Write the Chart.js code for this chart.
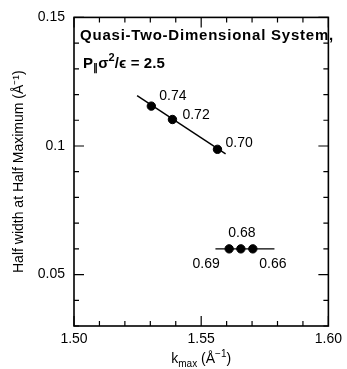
<!DOCTYPE html>
<html>
<head>
<meta charset="utf-8">
<script src="https://cdn.jsdelivr.net/npm/chart.js@4"></script>
<style>
  html, body { margin: 0; padding: 0; background: #fff; }
  #wrap { width: 347px; height: 369px; }
</style>
</head>
<body>
<div id="wrap"><canvas id="hwhm"></canvas></div>
<script>
// values
const upperK = [1.5304, 1.5387, 1.5564];
const upperHW = [0.1155, 0.1103, 0.0987];
const upperDensity = ['0.74', '0.72', '0.70'];
const upperFitK = [1.5248, 1.5596];
const upperFitHW = [0.1196, 0.0969];

const lowerK = [1.5610, 1.5656, 1.5703];
const lowerHW = [0.0600, 0.0600, 0.0600];
const lowerDensity = ['0.69', '0.68', '0.66'];
const lowerFitK = [1.5556, 1.5788];
const lowerFitHW = [0.0600, 0.0600];

const xMajor = [1.50, 1.55, 1.60];
const yMajor = [0.05, 0.10, 0.15];

const pts = (xs, ys) => xs.map((x, i) => ({ x: x, y: ys[i] }));
const FONT = '"Liberation Sans", Arial, Helvetica, sans-serif';
const isMajor = (v, list) => list.some(m => Math.abs(m - v) < 1e-6);

// label offsets (px) from each point: [dx, dy, align]
const upperOffsets = [[8, -10, 'left'], [10, -4, 'left'], [8, -6, 'left']];
const lowerOffsets = [[-23, 15, 'center'], [1, -16, 'center'], [20, 15, 'center']];

// draw text pieces [text, size, dy] in a row, stretched to a target width
function drawRow(ctx, parts, x, base, weight, target) {
  let total = 0, n = 0;
  parts.forEach(p => { ctx.font = weight + p[1] + 'px ' + FONT; total += ctx.measureText(p[0]).width; n += p[0].length; });
  const sp = target ? (target - total) / n : 0;
  parts.forEach(p => {
    ctx.font = weight + p[1] + 'px ' + FONT;
    ctx.letterSpacing = sp.toFixed(2) + 'px';
    ctx.fillText(p[0], x, base + p[2]);
    x += ctx.measureText(p[0]).width;
  });
  ctx.letterSpacing = '0px';
}

const framePlugin = {
  id: 'frame',
  afterDraw(chart) {
    const ctx = chart.ctx, a = chart.chartArea;
    const xs = chart.scales.x, ys = chart.scales.y;
    ctx.save();
    ctx.strokeStyle = '#000';
    ctx.lineWidth = 1.6;
    ctx.strokeRect(a.left, a.top, a.right - a.left, a.bottom - a.top);
    ctx.lineWidth = 1.2;
    ctx.beginPath();
    xs.ticks.forEach(t => {
      const px = xs.getPixelForValue(t.value);
      const len = isMajor(t.value, xMajor) ? 10 : 5;
      ctx.moveTo(px, a.bottom); ctx.lineTo(px, a.bottom - len);
      ctx.moveTo(px, a.top); ctx.lineTo(px, a.top + len);
    });
    ys.ticks.forEach(t => {
      const py = ys.getPixelForValue(t.value);
      const len = isMajor(t.value, yMajor) ? 10 : 5;
      ctx.moveTo(a.left, py); ctx.lineTo(a.left + len, py);
      ctx.moveTo(a.right, py); ctx.lineTo(a.right - len, py);
    });
    ctx.stroke();

    // point labels
    ctx.fillStyle = '#000';
    ctx.font = '14px ' + FONT;
    ctx.textBaseline = 'middle';
    const lab = (dsIndex, texts, offs) => {
      chart.getDatasetMeta(dsIndex).data.forEach((el, i) => {
        ctx.textAlign = offs[i][2];
        ctx.fillText(texts[i], el.x + offs[i][0], el.y + offs[i][1]);
      });
    };
    lab(2, upperDensity, upperOffsets);
    lab(3, lowerDensity, lowerOffsets);

    // in-plot title
    ctx.textAlign = 'left';
    ctx.textBaseline = 'alphabetic';
    drawRow(ctx, [['Quasi-Two-Dimensional System,', 15, 0]], a.left + 6, a.top + 23, 'bold ', 254);
    drawRow(ctx, [['P', 15, 0], ['\u2225', 10, 3], ['\u03c3', 15, 0], ['2', 11, -7], ['/\u03f5 = 2.5', 15, 0]],
      a.left + 9, a.top + 51, 'bold ', 82);

    // x axis title with subscript / superscript
    ctx.font = '14px ' + FONT;
    const parts = [['k', 14, 0], ['max', 10, 4], [' (\u00c5', 14, 0], ['\u22121', 10, -6], [')', 14, 0]];
    let total = 0;
    parts.forEach(p => { ctx.font = p[1] + 'px ' + FONT; total += ctx.measureText(p[0]).width; });
    drawRow(ctx, parts, (a.left + a.right) / 2 - total / 2, 363, '', 0);
    ctx.restore();
  }
};

new Chart(document.getElementById('hwhm'), {
  type: 'scatter',
  data: {
    datasets: [
      { data: pts(upperFitK, upperFitHW), showLine: true, pointRadius: 0, borderColor: '#000', borderWidth: 1.4 },
      { data: pts(lowerFitK, lowerFitHW), showLine: true, pointRadius: 0, borderColor: '#000', borderWidth: 1.4 },
      { data: pts(upperK, upperHW), pointRadius: 4.2, backgroundColor: '#000', borderColor: '#000' },
      { data: pts(lowerK, lowerHW), pointRadius: 4.2, backgroundColor: '#000', borderColor: '#000' }
    ]
  },
  options: {
    responsive: true,
    maintainAspectRatio: false,
    animation: false,
    layout: { padding: { top: 16, right: 14, left: 0, bottom: 0 } },
    plugins: { legend: { display: false }, tooltip: { enabled: false } },
    scales: {
      x: {
        type: 'linear', min: 1.5, max: 1.6,
        afterFit: s => { s.height = 43; },
        grid: { display: false, tickLength: 0 }, border: { display: false },
        ticks: {
          stepSize: 0.01, color: '#000', padding: 5, maxRotation: 0, autoSkip: false,
          font: { family: FONT, size: 14 },
          callback: v => isMajor(v, xMajor) ? v.toFixed(2) : ''
        }
      },
      y: {
        type: 'linear', min: 0.03, max: 0.15,
        afterFit: s => { s.width = 74; },
        grid: { display: false, tickLength: 0 }, border: { display: false },
        title: {
          display: true, text: 'Half width at Half Maximum (\u00c5\u207b\u00b9)',
          color: '#000', font: { family: FONT, size: 14 }, padding: { top: 11, bottom: 0 }
        },
        ticks: {
          stepSize: 0.01, color: '#000', padding: 9, autoSkip: false,
          font: { family: FONT, size: 14 },
          callback: v => isMajor(v, yMajor) ? String(Math.round(v * 100) / 100) : ''
        }
      }
    }
  },
  plugins: [framePlugin]
});
</script>
</body>
</html>
